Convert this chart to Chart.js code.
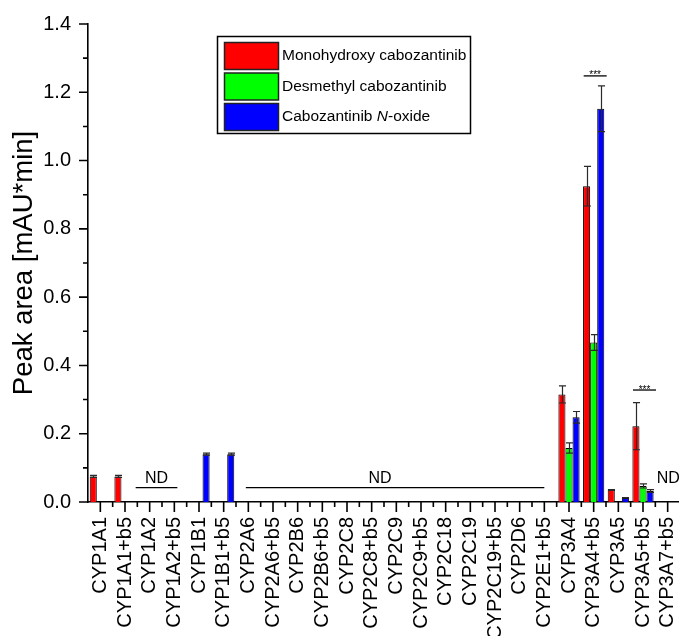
<!DOCTYPE html>
<html><head><meta charset="utf-8">
<script src="https://cdn.jsdelivr.net/npm/chart.js@4.4.1/dist/chart.umd.min.js"></script>
<style>
html,body{margin:0;padding:0;background:#fff;overflow:hidden;width:679px;height:636px}
#wrap{width:682px;height:636px;position:relative}
canvas{display:block}
</style></head><body>
<div id="wrap"><canvas id="c" width="682" height="636"></canvas></div>
<script>
const categories = ['CYP1A1','CYP1A1+b5','CYP1A2','CYP1A2+b5','CYP1B1','CYP1B1+b5','CYP2A6','CYP2A6+b5','CYP2B6','CYP2B6+b5','CYP2C8','CYP2C8+b5','CYP2C9','CYP2C9+b5','CYP2C18','CYP2C19','CYP2C19+b5','CYP2D6','CYP2E1+b5','CYP3A4','CYP3A4+b5','CYP3A5','CYP3A5+b5','CYP3A7+b5'];
const seriesNames = ['Monohydroxy cabozantinib','Desmethyl cabozantinib','Cabozantinib N-oxide'];
const seriesColors = ['#ff0000','#00ff00','#0000ff'];
const monohydroxy    = [0.075,0.075,null,null,null,null,null,null,null,null,null,null,null,null,null,null,null,null,null,0.315,0.925,0.035,0.222,null];
const monohydroxyErr = [0.003,0.003,null,null,null,null,null,null,null,null,null,null,null,null,null,null,null,null,null,0.025,0.058,0.001,0.069,null];
const desmethyl      = [null,null,null,null,null,null,null,null,null,null,null,null,null,null,null,null,null,null,null,0.158,0.467,null,0.047,null];
const desmethylErr   = [null,null,null,null,null,null,null,null,null,null,null,null,null,null,null,null,null,null,null,0.015,0.023,null,0.006,null];
const noxide         = [null,null,null,null,0.140,0.140,null,null,null,null,null,null,null,null,null,null,null,null,null,0.248,1.152,0.012,0.032,null];
const noxideErr      = [null,null,null,null,0.003,0.003,null,null,null,null,null,null,null,null,null,null,null,null,null,0.017,0.067,0.001,0.004,null];
const yTicks = [0.0,0.2,0.4,0.6,0.8,1.0,1.2,1.4];
const ndGroups = [['CYP1A2','CYP1A2+b5'],['CYP2A6','CYP2E1+b5'],['CYP3A7+b5']];
const sigMarks = [['CYP3A4+b5',1.248],['CYP3A5+b5',0.328]];

const FONT = '"Liberation Sans", Arial, sans-serif';

const errorBars = {
  id:'errorBars',
  afterDatasetsDraw(chart){
    const ctx = chart.ctx, ys = chart.scales.y;
    chart.data.datasets.forEach((ds,i)=>{
      const meta = chart.getDatasetMeta(i);
      meta.data.forEach((el,j)=>{
        const v = ds.data[j], e = ds.errors[j];
        if (v==null || e==null) return;
        const x = Math.round(el.x)+0.5, w = el.width;
        const y1 = ys.getPixelForValue(v+e), y2 = ys.getPixelForValue(v-e);
        ctx.save();
        ctx.strokeStyle = '#2a2a2a'; ctx.lineWidth = 1.2;
        ctx.beginPath();
        ctx.moveTo(x,y1); ctx.lineTo(x,y2);
        ctx.moveTo(x-w/2,y1); ctx.lineTo(x+w/2,y1);
        ctx.moveTo(x-w/2,y2); ctx.lineTo(x+w/2,y2);
        ctx.stroke();
        ctx.restore();
      });
    });
  }
};

const axisTicks = {
  id:'axisTicks',
  afterDraw(chart){
    const ctx = chart.ctx, xs = chart.scales.x, ys = chart.scales.y;
    const a = chart.chartArea;
    ctx.save();
    ctx.strokeStyle = '#000'; ctx.lineWidth = 1.6;
    ctx.beginPath();
    for (let k=0;k<yTicks.length;k++){
      const y = ys.getPixelForValue(yTicks[k]);
      ctx.moveTo(a.left-9,y); ctx.lineTo(a.left,y);
      if (k<yTicks.length-1){
        const ym = ys.getPixelForValue((yTicks[k]+yTicks[k+1])/2);
        ctx.moveTo(a.left-5,ym); ctx.lineTo(a.left,ym);
      }
    }
    const n = categories.length;
    const step = xs.getPixelForValue(1)-xs.getPixelForValue(0);
    for (let i=0;i<n;i++){
      const x = xs.getPixelForValue(i);
      ctx.moveTo(x,a.bottom); ctx.lineTo(x,a.bottom+10);
      const xb = x+step/2;
      ctx.moveTo(xb,a.bottom); ctx.lineTo(xb,a.bottom+5);
    }
    ctx.stroke();
    ctx.restore();
  }
};

const annotations = {
  id:'annotations',
  afterDraw(chart){
    const ctx = chart.ctx, xs = chart.scales.x, ys = chart.scales.y;
    const px = name => xs.getPixelForValue(categories.indexOf(name));
    const yLine = ys.getPixelForValue(0.042);
    ctx.save();
    ctx.strokeStyle = '#000'; ctx.fillStyle = '#000'; ctx.lineWidth = 1.3;
    ctx.font = '16px ' + FONT; ctx.textAlign = 'center'; ctx.textBaseline = 'alphabetic';
    let g = ndGroups[0];
    let l = px(g[0])-14, r = px(g[1])+3;
    ctx.beginPath(); ctx.moveTo(l,yLine); ctx.lineTo(r,yLine); ctx.stroke();
    ctx.fillText('ND',(l+r)/2,yLine-4.5);
    g = ndGroups[1];
    l = px(g[0])-2.5; r = px(g[1]);
    ctx.beginPath(); ctx.moveTo(l,yLine); ctx.lineTo(r,yLine); ctx.stroke();
    ctx.fillText('ND',(l+r)/2-15,yLine-4.5);
    g = ndGroups[2];
    ctx.textAlign = 'left';
    ctx.fillText('ND',px(g[0])-11,yLine-4.5);
    ctx.textAlign = 'center';
    ctx.font = '10px ' + FONT;
    sigMarks.forEach(([name,val])=>{
      const c = px(name)+1.5, y = ys.getPixelForValue(val);
      ctx.beginPath(); ctx.moveTo(c-11.5,y); ctx.lineTo(c+11.5,y); ctx.stroke();
      ctx.fillText('***',c,y+2.5);
    });
    ctx.restore();
  }
};

const boxLegend = {
  id:'boxLegend',
  afterDraw(chart){
    const ctx = chart.ctx;
    ctx.save();
    ctx.strokeStyle = '#000'; ctx.lineWidth = 1.5;
    ctx.fillStyle = '#fff';
    ctx.fillRect(217.5,36.5,253,97);
    ctx.strokeRect(217.5,36.5,253,97);
    const rows = [42,72.5,103];
    chart.data.datasets.forEach((ds,i)=>{
      const y = rows[i];
      ctx.fillStyle = ds.backgroundColor;
      ctx.fillRect(224.5,y+0.5,54,27);
      ctx.strokeStyle = '#222'; ctx.lineWidth = 1.5;
      ctx.strokeRect(224.5,y+0.5,54,27);
      ctx.fillStyle = '#000';
      ctx.textBaseline = 'middle'; ctx.textAlign = 'left';
      const cy = y+14;
      let x = 282;
      const m = ds.label.match(/^(.*\s)(N)(-oxide)$/);
      const parts = m ? [[m[1],''],[m[2],'italic '],[m[3],'']] : [[ds.label,'']];
      parts.forEach(([t,st])=>{
        ctx.font = st + '15.5px ' + FONT;
        ctx.fillText(t,x,cy);
        x += ctx.measureText(t).width;
      });
    });
    ctx.restore();
  }
};

const values = [monohydroxy, desmethyl, noxide];
const errs = [monohydroxyErr, desmethylErr, noxideErr];

new Chart(document.getElementById('c'), {
  type:'bar',
  data:{
    labels: categories,
    datasets: seriesNames.map((name,i)=>({
      label:name,
      data:values[i],
      errors:errs[i],
      backgroundColor:seriesColors[i],
      borderColor:'#000',
      borderWidth:1,
      categoryPercentage:0.86,
      barPercentage:1.0
    }))
  },
  options:{
    responsive:false,
    animation:false,
    layout:{padding:{top:24,right:2,left:0,bottom:0}},
    plugins:{legend:{display:false},tooltip:{enabled:false}},
    scales:{
      x:{
        offset:true,
        grid:{display:false,drawTicks:false},
        border:{display:true,color:'#000',width:1.6},
        ticks:{autoSkip:false,maxRotation:90,minRotation:90,padding:15,color:'#000',font:{family:FONT,size:20}},
        afterFit(s){ s.height = 134; s.paddingLeft = 0; s.paddingRight = 0; }
      },
      y:{
        min:0,max:1.4,
        grid:{display:false,drawTicks:false},
        border:{display:true,color:'#000',width:1.6},
        ticks:{stepSize:0.2,padding:17,color:'#000',font:{family:FONT,size:20},callback:v=>Number(v).toFixed(1)},
        title:{display:true,text:'Peak area [mAU*min]',color:'#000',font:{family:FONT,size:27.5},padding:{top:8,bottom:0}},
        afterFit(s){ s.width = 88; s.paddingTop = 0; s.paddingBottom = 0; }
      }
    }
  },
  plugins:[errorBars,axisTicks,annotations,boxLegend]
});
</script>
</body></html>
